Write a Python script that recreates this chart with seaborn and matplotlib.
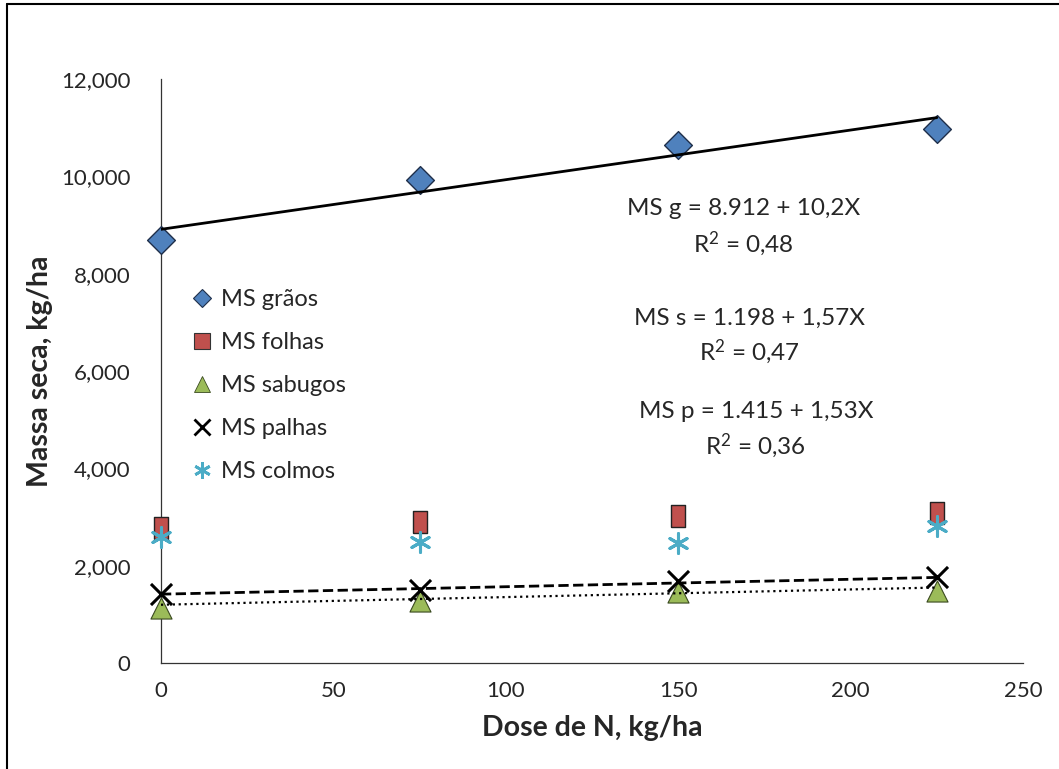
import matplotlib
matplotlib.use("Agg")
import matplotlib.pyplot as plt
from matplotlib.lines import Line2D
from matplotlib.ticker import FuncFormatter
import seaborn as sns
import numpy as np
import pandas as pd

# Data
dose = [0, 75, 150, 225]
ms_graos = [8690, 9920, 10640, 10970]
ms_folhas = [2770, 2900, 3030, 3090]
ms_sabugos = [1140, 1270, 1460, 1490]
ms_palhas = [1420, 1510, 1690, 1760]
ms_colmos = [2600, 2490, 2460, 2820]

series_names = ["MS grãos", "MS folhas", "MS sabugos", "MS palhas", "MS colmos"]

# Regression equations printed on the chart
trend_names = ["MS grãos", "MS sabugos", "MS palhas"]
trend_intercept = [8912, 1198, 1415]
trend_slope = [10.2, 1.57, 1.53]
eq_labels = ["MS g = 8.912 + 10,2X", "MS s = 1.198 + 1,57X", "MS p = 1.415 + 1,53X"]
r2_labels = ["R$^{2}$ = 0,48", "R$^{2}$ = 0,47", "R$^{2}$ = 0,36"]

df = pd.DataFrame({
    "Dose": dose * 5,
    "Massa": ms_graos + ms_folhas + ms_sabugos + ms_palhas + ms_colmos,
    "Serie": np.repeat(series_names, len(dose)),
})

sns.set_style("white")
plt.rcParams["font.family"] = ["Lato", "DejaVu Sans"]
plt.rcParams["mathtext.fontset"] = "custom"
plt.rcParams["mathtext.rm"] = "Lato"
plt.rcParams["mathtext.default"] = "rm"

tall_square = [(-0.6, -1), (0.6, -1), (0.6, 1), (-0.6, 1), (-0.6, -1)]
styles = {
    "MS grãos": dict(marker="D", s=200, color="#4F81BD", edgecolor="#1F2F4A", linewidth=1),
    "MS folhas": dict(marker=tall_square, s=250, color="#C0504D", edgecolor="#222222", linewidth=1),
    "MS sabugos": dict(marker="^", s=230, color="#9BBB59", edgecolor="#3A4A20", linewidth=0.8),
    "MS palhas": dict(marker="x", s=230, color="black", linewidth=2.2),
    "MS colmos": dict(marker=(6, 2, 0), s=200, color="#4BACC6", linewidth=2.2),
}

fig = plt.figure(figsize=(10.59, 7.69), dpi=100)
ax = fig.add_axes([0.152, 0.1378, 0.814, 0.7594])

for name in series_names:
    sub = df[df["Serie"] == name]
    sns.scatterplot(data=sub, x="Dose", y="Massa", ax=ax, zorder=3, legend=False, **styles[name])

# Trend lines
line_styles = {"MS grãos": ("-", 2.0), "MS sabugos": (":", 1.6), "MS palhas": ("--", 2.0)}
xs = np.array([dose[0], dose[-1]])
for name, b0, b1 in zip(trend_names, trend_intercept, trend_slope):
    ls, lw = line_styles[name]
    ax.plot(xs, b0 + b1 * xs, color="black", linestyle=ls, linewidth=lw, zorder=4)

ax.set_xlim(0, 250)
ax.set_ylim(0, 12000)
ax.set_xticks([0, 50, 100, 150, 200, 250])
ax.set_yticks([0, 2000, 4000, 6000, 8000, 10000, 12000])
ax.yaxis.set_major_formatter(FuncFormatter(lambda v, p: f"{int(v):,}"))
ax.tick_params(axis="both", length=0, labelsize=16)
ax.tick_params(axis="y", pad=22)
ax.tick_params(axis="x", pad=13)
for c in ax.collections:
    c.set_clip_on(False)

for side in ["top", "right"]:
    ax.spines[side].set_visible(False)
for side in ["left", "bottom"]:
    ax.spines[side].set_color("#333333")
    ax.spines[side].set_linewidth(0.9)

ax.set_xlabel("Dose de N, kg/ha", fontsize=20.5, fontweight="bold", labelpad=10)
ax.set_ylabel("Massa seca, kg/ha", fontsize=20.5, fontweight="bold", labelpad=6)

# Equations
eq_pos = [(0.676, 0.779), (0.683, 0.591), (0.691, 0.430)]
r2_pos = [(0.676, 0.719), (0.683, 0.533), (0.690, 0.372)]
for lab, (x, y) in zip(eq_labels, eq_pos):
    ax.text(x, y, lab, transform=ax.transAxes, ha="center", va="center", fontsize=17.5)
for lab, (x, y) in zip(r2_labels, r2_pos):
    ax.text(x, y, lab, transform=ax.transAxes, ha="center", va="center", fontsize=17.5)

# Legend handles (markers only, as in the original)
leg_markers = {
    "MS grãos": dict(marker="D", markersize=9, markerfacecolor="#4F81BD", markeredgecolor="#1F2F4A", markeredgewidth=0.8),
    "MS folhas": dict(marker="s", markersize=11, markerfacecolor="#C0504D", markeredgecolor="#333333", markeredgewidth=0.8),
    "MS sabugos": dict(marker="^", markersize=12, markerfacecolor="#9BBB59", markeredgecolor="#3A4A20", markeredgewidth=0.6),
    "MS palhas": dict(marker="x", markersize=11, color="black", markeredgewidth=2),
    "MS colmos": dict(marker=(6, 2, 0), markersize=12, color="#4BACC6", markeredgewidth=2),
}
handles = [Line2D([], [], linestyle="none", **leg_markers[n]) for n in series_names]
ax.legend(handles, series_names, loc="upper left", bbox_to_anchor=(0.037, 0.64), frameon=False,
          fontsize=17, handlelength=0.8, handletextpad=0.4,
          labelspacing=0.93, borderaxespad=0, borderpad=0)

# Outer chart border (top and left visible)
fig.add_artist(Line2D([0.0066, 1.0], [0.9948, 0.9948], color="black", linewidth=1.5))
fig.add_artist(Line2D([0.0066, 0.0066], [0.0, 0.9948], color="black", linewidth=1.5))

fig.savefig("out.png", dpi=100)
